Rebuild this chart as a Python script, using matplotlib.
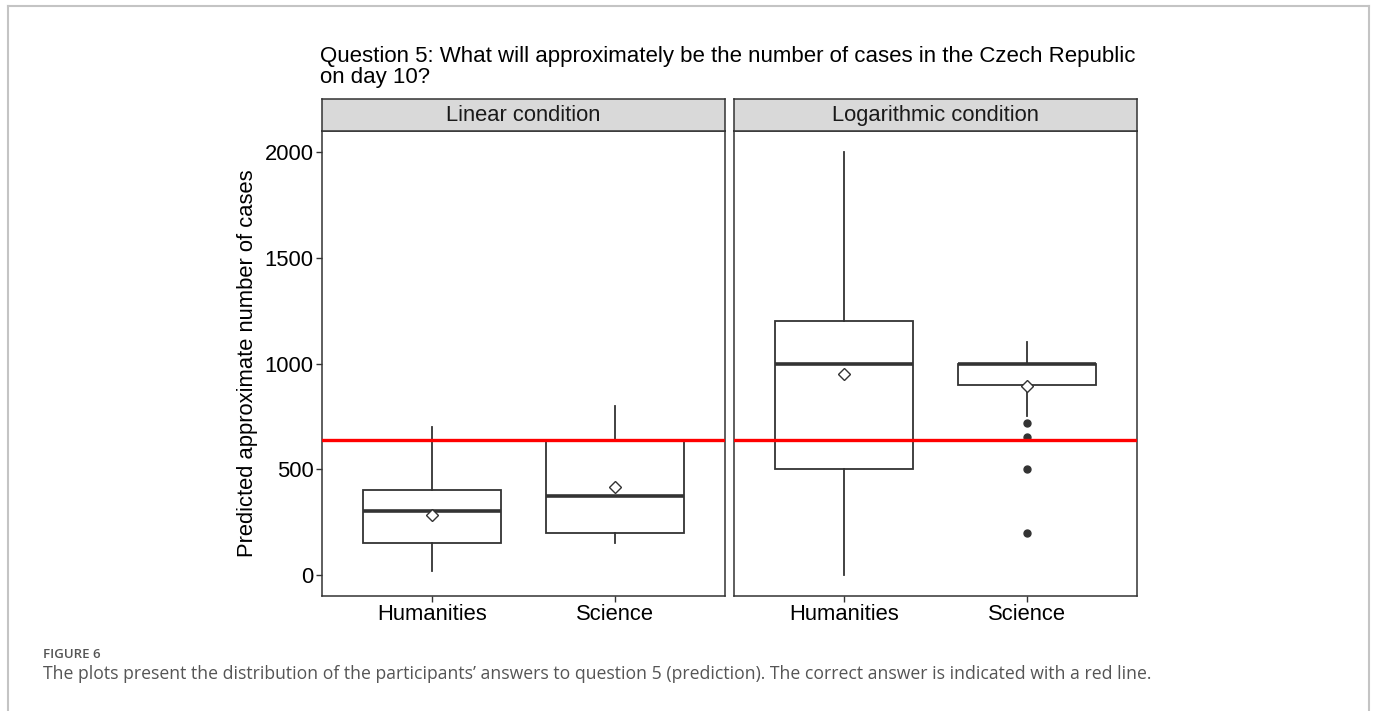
import matplotlib
matplotlib.use("Agg")
import matplotlib.pyplot as plt
from matplotlib.lines import Line2D

# ---- data ----
conditions = ["Linear condition", "Logarithmic condition"]
groups = ["Humanities", "Science"]
whislo = [[20, 150], [0, 750]]
q1 = [[150, 200], [500, 900]]
med = [[300, 375], [1000, 1000]]
q3 = [[400, 640], [1200, 1000]]
whishi = [[700, 800], [2000, 1100]]
means = [[283, 415], [950, 895]]
fliers = [[[], []], [[], [720, 650, 500, 200]]]
correct_answer = 640
yticks = [0, 500, 1000, 1500, 2000]

title = ("Question 5: What will approximately be the number of cases in the Czech Republic\n"
         "on day 10?")
ylabel = "Predicted approximate number of cases"
fig_label = "FIGURE 6"
caption = ("The plots present the distribution of the participants\u2019 answers to question 5 "
           "(prediction). The correct answer is indicated with a red line.")

W, H = 1375, 711
fig = plt.figure(figsize=(W / 100, H / 100), dpi=100)

def fx(px):
    return px / W

def fy(py):
    return 1 - py / H

# outer border
bc = "#c4c4c4"
fig.add_artist(Line2D([fx(8), fx(8)], [fy(6), 0], color=bc, lw=1.5))
fig.add_artist(Line2D([fx(1369), fx(1369)], [fy(6), 0], color=bc, lw=1.5))
fig.add_artist(Line2D([fx(8), fx(1369)], [fy(6), fy(6)], color=bc, lw=1.5))

panel_x = [(322, 725), (734, 1137)]
top, bottom = 131, 596
strip_top = 99
dark = "#333333"
FS = 15.8

for i, cond in enumerate(conditions):
    x0, x1 = panel_x[i]
    ax = fig.add_axes([fx(x0), fy(bottom), fx(x1 - x0), (bottom - top) / H])
    stats = []
    for j, g in enumerate(groups):
        stats.append(dict(med=med[i][j], q1=q1[i][j], q3=q3[i][j],
                          whislo=whislo[i][j], whishi=whishi[i][j],
                          fliers=fliers[i][j], label=g))
    ax.bxp(stats, positions=[1, 2], widths=0.75, showcaps=False,
           patch_artist=True,
           boxprops=dict(facecolor="white", edgecolor=dark, linewidth=1.3),
           whiskerprops=dict(color=dark, linewidth=1.3),
           medianprops=dict(color=dark, linewidth=2.6),
           flierprops=dict(marker="o", markerfacecolor=dark, markeredgecolor=dark,
                           markersize=5, linestyle="none"))
    ax.plot([1, 2], means[i], linestyle="none", marker="D", markersize=6.5,
            markerfacecolor="white", markeredgecolor=dark, markeredgewidth=1.0, zorder=5)
    ax.axhline(correct_answer, color="red", linewidth=2.4, zorder=4)
    ax.set_xlim(0.4, 2.6)
    ax.set_ylim(-100, 2100)
    ax.set_xticks([1, 2])
    ax.set_xticklabels(groups, fontsize=FS, color="black", family="Liberation Sans")
    ax.set_yticks(yticks)
    if i == 0:
        ax.set_yticklabels([str(t) for t in yticks], fontsize=FS, color="black",
                           family="Liberation Sans")
        ax.set_ylabel(ylabel, fontsize=FS, family="Liberation Sans", labelpad=5)
    else:
        ax.tick_params(axis="y", left=False, labelleft=False)
    ax.tick_params(axis="both", length=4, width=1, color=dark, pad=2)
    for s in ax.spines.values():
        s.set_color(dark)
        s.set_linewidth(1.1)
    # strip
    sax = fig.add_axes([fx(x0), fy(top), fx(x1 - x0), (top - strip_top) / H])
    sax.set_facecolor("#d9d9d9")
    sax.set_xticks([])
    sax.set_yticks([])
    for s in sax.spines.values():
        s.set_color(dark)
        s.set_linewidth(1.1)
    sax.text(0.5, 0.47, cond, ha="center", va="center", fontsize=FS,
             family="Liberation Sans", color="#1a1a1a", transform=sax.transAxes)

fig.text(fx(320), fy(88), title, ha="left", va="bottom", fontsize=16,
         family="Liberation Sans", color="black", linespacing=1.02)

fig.text(fx(43), fy(654), fig_label, ha="left", va="center", fontsize=9.5,
         family="Open Sans", color="#555555", fontweight="semibold")
fig.text(fx(43), fy(674), caption, ha="left", va="center", fontsize=12.7,
         family="Open Sans", color="#555555")

fig.savefig("out.png", dpi=100)
